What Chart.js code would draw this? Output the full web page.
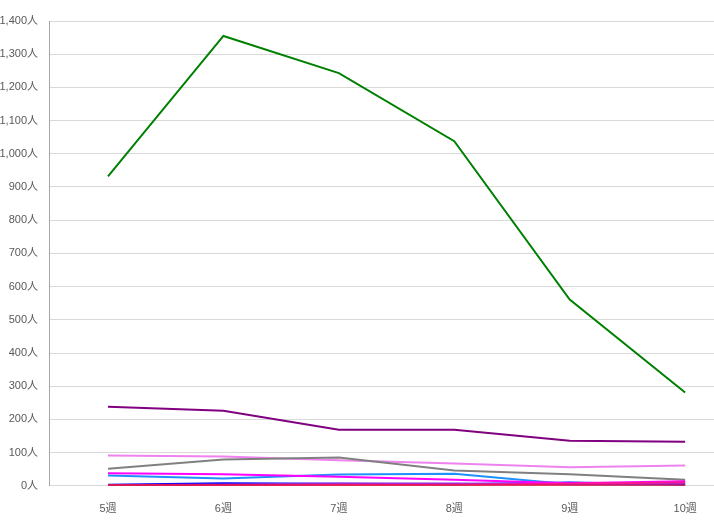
<!DOCTYPE html>
<html>
<head>
<meta charset="utf-8">
<script src="https://cdn.jsdelivr.net/npm/chart.js@4"></script>
<style>
  html, body { margin: 0; padding: 0; background: #fff; }
</style>
</head>
<body>
<canvas id="graphique" width="714" height="526"></canvas>
<script>
// weeks on the x axis
const weeks = [5, 6, 7, 8, 9, 10];
const weekLabels = ['5週', '6週', '7週', '8週', '9週', '10週'];

// one array per line
const green = [932, 1355, 1243, 1038, 561, 281];
const purple = [238, 226, 169, 169, 136, 133];
const violet = [91, 88, 77, 67, 56, 61];
const gray = [51, 79, 85, 46, 35, 18];
const magenta = [38, 35, 27, 18, 8, 14];
const dodger = [31, 22, 34, 36, 5, 3];
const blue = [3, 8, 6, 5, 10, 4];
const blueViolet = [2, 4, 7, 7, 5, 6];
const deepPink = [1, 2, 3, 3, 6, 11];
const crimson = [2, 2, 1, 1, 1, 1];

const yTicks = [0, 100, 200, 300, 400, 500, 600, 700, 800, 900, 1000, 1100, 1200, 1300, 1400];

const labelFont = { family: '"Liberation Sans", "Noto Sans CJK JP", sans-serif', size: 11 };

function pts(arr) {
  return arr.map((v, i) => ({ x: weeks[i], y: v }));
}

function ds(label, arr, color) {
  return {
    label: label,
    data: pts(arr),
    borderColor: color,
    backgroundColor: color,
    borderWidth: 2,
    pointRadius: 0,
    tension: 0,
    fill: false
  };
}

const ctx = document.getElementById('graphique');
new Chart(ctx, {
  type: 'line',
  data: {
    datasets: [
      ds('green', green, '#008000'),
      ds('purple', purple, '#800080'),
      ds('crimson', crimson, '#DC143C'),
      ds('deeppink', deepPink, '#FF1493'),
      ds('magenta', magenta, '#FF00FF'),
      ds('blueviolet', blueViolet, '#8A2BE2'),
      ds('blue', blue, '#0000FF'),
      ds('dodger', dodger, '#1E90FF'),
      ds('gray', gray, '#808080'),
      ds('violet', violet, '#EE82EE')
    ]
  },
  options: {
    responsive: false,
    animation: false,
    layout: { padding: { top: 21, right: 0, bottom: 1, left: 0 } },
    plugins: {
      legend: { display: false },
      tooltip: { enabled: false }
    },
    scales: {
      x: {
        type: 'linear',
        min: 4.489,
        max: 10.25,
        afterBuildTicks: (scale) => {
          scale.ticks = weeks.map(v => ({ value: v }));
        },
        ticks: {
          autoSkip: false,
          maxRotation: 0,
          padding: 9,
          color: '#595959',
          font: labelFont,
          callback: (v) => weekLabels[weeks.indexOf(v)]
        },
        grid: { display: false },
        border: { display: true, color: '#d9d9d9' }
      },
      y: {
        min: 0,
        max: 1400,
        afterBuildTicks: (scale) => {
          scale.ticks = yTicks.map(v => ({ value: v }));
        },
        afterFit: (scale) => { scale.width = 49; },
        ticks: {
          padding: 11,
          color: '#595959',
          font: labelFont,
          callback: (v) => v.toLocaleString('en-US') + '人'
        },
        grid: { color: '#d9d9d9', drawTicks: false },
        border: { display: true, color: '#a6a6a6' }
      }
    }
  }
});
</script>
</body>
</html>
